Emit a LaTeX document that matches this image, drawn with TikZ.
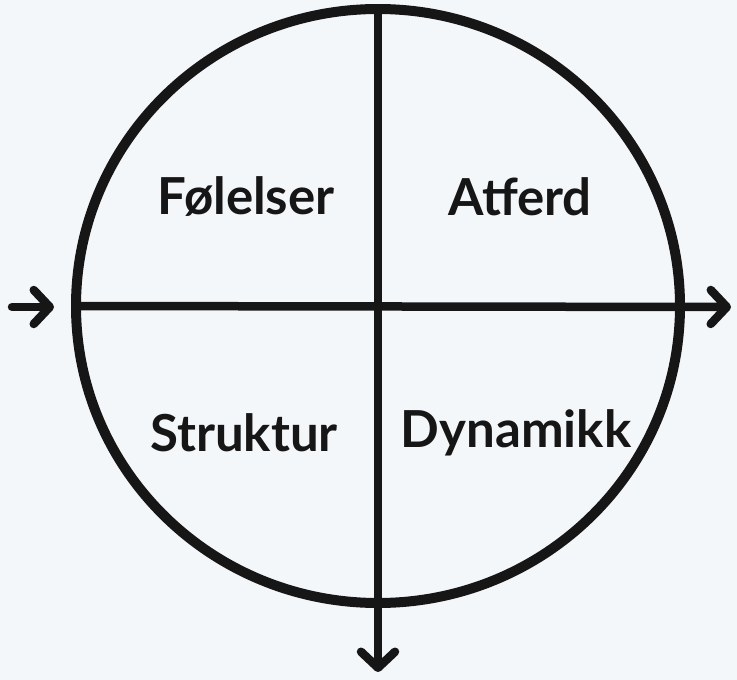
\documentclass[tikz,border=0pt]{standalone}
\usepackage{fontspec}
\setmainfont{Lato}
\usepackage{xcolor}
\usetikzlibrary{shapes.geometric, arrows.meta, positioning}
\definecolor{mybg}{RGB}{244,247,250}
\definecolor{myink}{RGB}{22,22,22}
\tikzset{
  wheel/.style={ellipse, draw=myink, line width=10pt, inner sep=0pt, outer sep=0pt,
    minimum width=604pt, minimum height=594pt},
  quad/.style={font=\fontsize{51}{56}\selectfont\bfseries, text=myink},
  axis/.style={line width=8.5pt, color=myink, line cap=round,
    -{Straight Barb[length=16pt, width=34pt, line width=8.5pt, line cap=round, line join=round]}},
  line/.style={line width=8.5pt, color=myink}
}
\begin{document}
\begin{tikzpicture}[x=1pt, y=-1pt]
  % Background and page size
  \fill[mybg] (0,0) rectangle (737,680);
  \useasboundingbox (0,0) rectangle (737,680);

  % Circle
  \node[wheel] (wheel) at (378,306) {};

  % Free ends of the axes
  \coordinate (eastend) at (731,307);
  \coordinate (southend) at (378,672);
  \coordinate (inlet) at (12,307);
  \coordinate (inletend) at (54,307);

  % Axes
  \draw[axis] (wheel.west) -- (eastend);
  \draw[axis] (wheel.north) -- (southend);
  \draw[axis] (inlet) -- (inletend);

  % Quadrant labels
  \node[quad] (feel) at (246,197) {Følelser};
  \node[quad] (act) at (520,197) {Atferd};
  \node[quad] (struct) at (244,433) {Struktur};
  \node[quad] (dyn) at (516,433) {Dynamikk};
\end{tikzpicture}
\end{document}
